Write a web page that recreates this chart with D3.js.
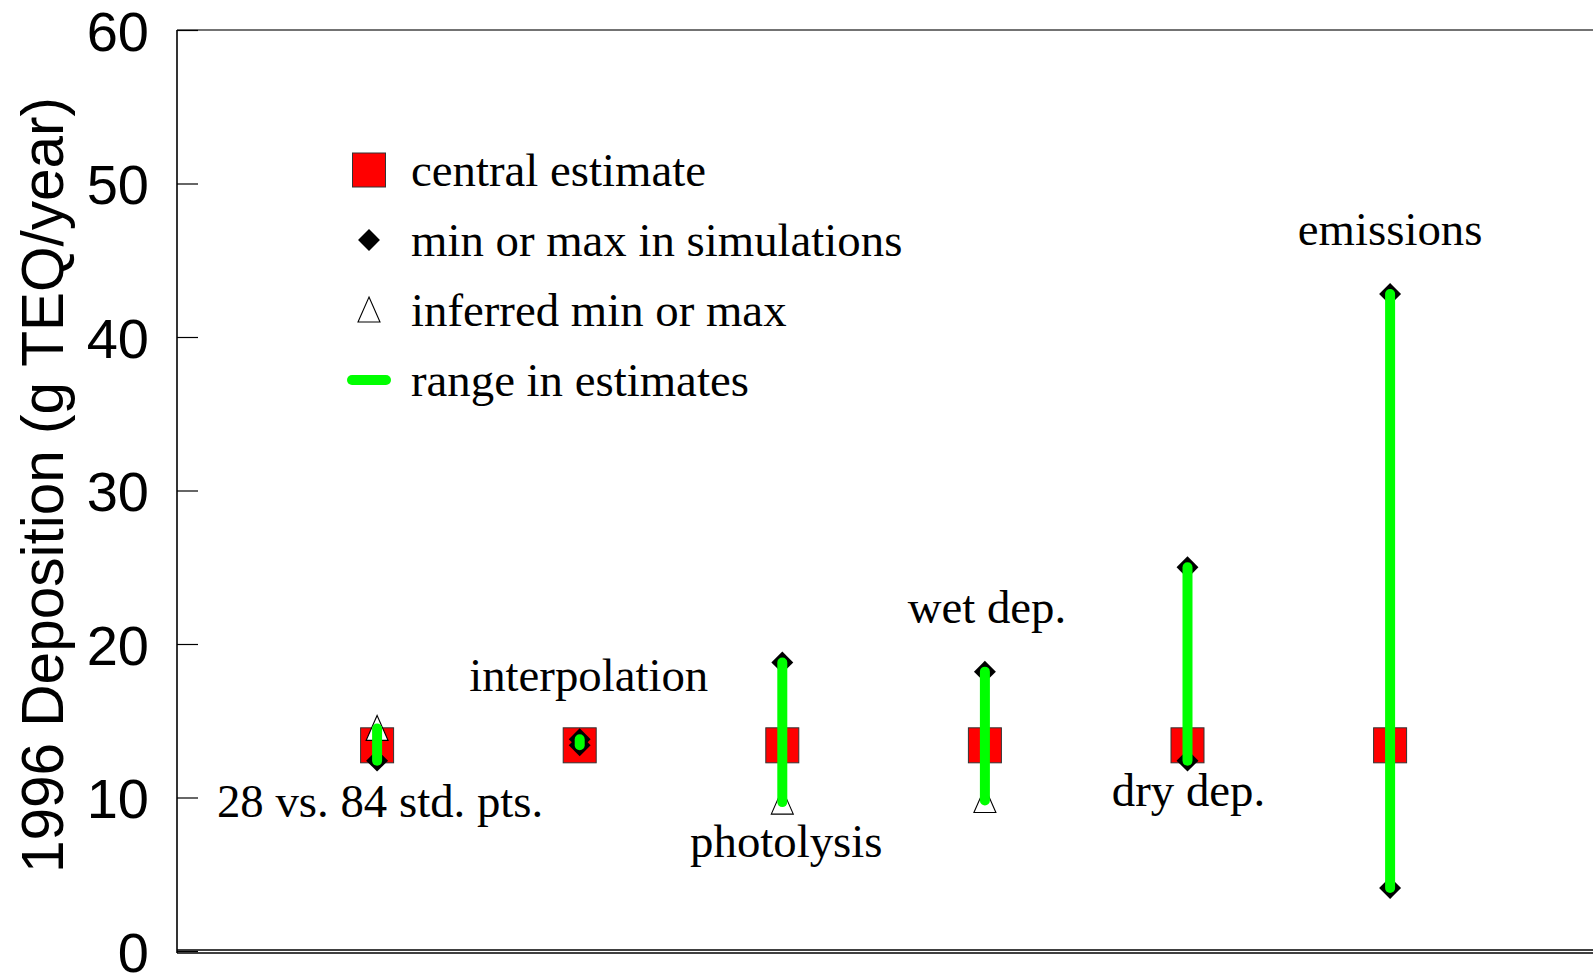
<!DOCTYPE html>
<meta charset='utf-8'>
<style>
	body { margin: 0; background: #fff; }
	.serif { font-family: 'Liberation Serif', 'Times New Roman', serif; }
	.sans { font-family: 'Liberation Sans', Arial, sans-serif; }
</style>
<body>
	<div id='container'></div>
<script src='https://d3js.org/d3.v7.min.js'></script>
<script>
	// data (g TEQ/year)
	const categories = [ '28 vs. 84 std. pts.', 'interpolation', 'photolysis', 'wet dep.', 'dry dep.', 'emissions' ];
	const central = [ 13.4, 13.4, 13.4, 13.4, 13.4, 13.4 ];
	const rangeLow = [ 12.4, 13.4, 9.7, 9.8, 12.4, 4.1 ];
	const rangeHigh = [ 14.5, 13.8, 18.8, 18.2, 25.0, 42.8 ];
	// kind of marker at each end: 'sim' = min/max in simulations, 'inferred' = inferred min/max
	const lowKind = [ 'sim', 'sim', 'inferred', 'inferred', 'sim', 'sim' ];
	const highKind = [ 'inferred', 'sim', 'sim', 'sim', 'sim', 'sim' ];
	const labelSide = [ 'below', 'above', 'below', 'above', 'below', 'above' ];
	const yTicks = [ 0, 10, 20, 30, 40, 50, 60 ];
	const legendItems = [ 'central estimate', 'min or max in simulations', 'inferred min or max', 'range in estimates' ];

	const W = 1593, H = 975;
	const plotLeft = 177, plotTop = 30, plotBottom = 951;

	const rows = categories.map( ( c, i ) => ( {
		name: c, idx: i + 1,
		central: central[i], low: rangeLow[i], high: rangeHigh[i],
		lowKind: lowKind[i], highKind: highKind[i], side: labelSide[i],
	} ) );

	const xScale = d3.scaleLinear()
		.domain( [0, 7] )
		.range( [174.5, 174.5 + 7 * 202.6] );
	const yScale = d3.scaleLinear()
		.domain( [0, 60] )
		.range( [plotBottom, plotTop] );

	const svg = d3.select( '#container' )
		.append( 'svg' )
		.attr( 'width', W )
		.attr( 'height', H );

	svg.append( 'rect' ).attr( 'width', W ).attr( 'height', H ).style( 'fill', '#fff' );

	// frame
	svg.append( 'line' )
		.attr( 'x1', plotLeft ).attr( 'x2', W )
		.attr( 'y1', plotTop ).attr( 'y2', plotTop )
		.style( 'stroke', '#444' ).style( 'stroke-width', 1.5 );
	[ plotBottom - 1, plotBottom + 2 ].forEach( y => {
		svg.append( 'line' )
			.attr( 'x1', plotLeft ).attr( 'x2', W )
			.attr( 'y1', y ).attr( 'y2', y )
			.style( 'stroke', '#000' ).style( 'stroke-width', 1.3 );
	} );

	const yAxis = d3.axisLeft( yScale )
		.tickValues( yTicks )
		.tickFormat( d3.format( 'd' ) )
		.tickSizeInner( -21 )
		.tickSizeOuter( 0 )
		.tickPadding( 28 );

	const yAxisEl = svg.append( 'g' )
		.attr( 'transform', `translate( ${plotLeft}, 0 )` )
		.call( yAxis );
	yAxisEl.select( '.domain' )
		.attr( 'd', `M0,${plotTop}V${plotBottom + 2}` )
		.style( 'stroke', '#000' ).style( 'stroke-width', 1.6 );
	yAxisEl.selectAll( '.tick line' ).style( 'stroke', '#000' ).style( 'stroke-width', 1.2 );
	yAxisEl.selectAll( '.tick text' )
		.attr( 'class', 'sans' )
		.attr( 'dy', '0.36em' )
		.style( 'font-size', '56px' )
		.style( 'fill', '#000' );

	svg.append( 'text' )
		.attr( 'class', 'sans' )
		.attr( 'transform', `translate( 63, 485 ) rotate( -90 )` )
		.attr( 'text-anchor', 'middle' )
		.style( 'font-size', '58.5px' )
		.text( '1996 Deposition (g TEQ/year)' );

	// marker shapes
	const diamond = d3.symbol().type( d3.symbolSquare ).size( 240 );
	const triPath = 'M0,-13L11,12L-11,12Z';

	const drawMarker = ( g, kind, cx, cy ) => {
		if ( kind === 'sim' ) {
			g.append( 'path' )
				.attr( 'd', diamond() )
				.attr( 'transform', `translate( ${cx}, ${cy} ) rotate( 45 )` )
				.style( 'fill', '#000' );
		} else {
			g.append( 'path' )
				.attr( 'd', triPath )
				.attr( 'transform', `translate( ${cx}, ${cy} )` )
				.style( 'fill', '#fff' )
				.style( 'stroke', '#000' )
				.style( 'stroke-width', 1.1 );
		}
	};

	// central estimates
	svg.append( 'g' ).selectAll( 'rect' )
		.data( rows ).enter().append( 'rect' )
		.attr( 'x', d => xScale( d.idx ) - 16.5 )
		.attr( 'y', d => yScale( d.central ) - 17.5 )
		.attr( 'width', 33 )
		.attr( 'height', 35 )
		.style( 'fill', '#ff0000' )
		.style( 'stroke', '#333' )
		.style( 'stroke-width', 1 );

	// min / max markers
	const markers = svg.append( 'g' );
	rows.forEach( d => {
		drawMarker( markers, d.highKind, xScale( d.idx ), yScale( d.high ) );
		drawMarker( markers, d.lowKind, xScale( d.idx ), yScale( d.low ) );
	} );

	// ranges
	svg.append( 'g' ).selectAll( 'line' )
		.data( rows ).enter().append( 'line' )
		.attr( 'x1', d => xScale( d.idx ) ).attr( 'x2', d => xScale( d.idx ) )
		.attr( 'y1', d => yScale( d.low ) ).attr( 'y2', d => yScale( d.high ) )
		.style( 'stroke', '#00ff00' )
		.style( 'stroke-width', 10 )
		.style( 'stroke-linecap', 'round' );

	// category labels
	const labelDy = [ 56, -48, 55, -49, 45, -49 ];
	const labelDx = [ 3, 9, 4, 2, 1, 0 ];
	svg.append( 'g' ).selectAll( 'text' )
		.data( rows ).enter().append( 'text' )
		.attr( 'class', 'serif' )
		.attr( 'text-anchor', 'middle' )
		.attr( 'x', ( d, i ) => xScale( d.idx ) + labelDx[i] )
		.attr( 'y', ( d, i ) => yScale( d.side === 'below' ? d.low : d.high ) + labelDy[i] )
		.style( 'font-size', '46.8px' )
		.text( d => d.name );

	// legend
	const lg = svg.append( 'g' ).attr( 'class', 'legend' );
	const legX = 369, legY0 = 170, legStep = 70;
	lg.append( 'rect' )
		.attr( 'x', legX - 16.5 ).attr( 'y', legY0 - 17 )
		.attr( 'width', 33 ).attr( 'height', 34 )
		.style( 'fill', '#ff0000' ).style( 'stroke', '#333' ).style( 'stroke-width', 1 );
	drawMarker( lg, 'sim', legX, legY0 + legStep );
	drawMarker( lg, 'inferred', legX, legY0 + 2 * legStep );
	lg.append( 'line' )
		.attr( 'x1', legX - 17 ).attr( 'x2', legX + 17 )
		.attr( 'y1', legY0 + 3 * legStep ).attr( 'y2', legY0 + 3 * legStep )
		.style( 'stroke', '#00ff00' ).style( 'stroke-width', 10 ).style( 'stroke-linecap', 'round' );
	lg.selectAll( 'text' )
		.data( legendItems ).enter().append( 'text' )
		.attr( 'class', 'serif' )
		.attr( 'x', 411 )
		.attr( 'y', ( d, i ) => legY0 + i * legStep + 16 )
		.style( 'font-size', '46.8px' )
		.text( d => d );
</script>
</body>
